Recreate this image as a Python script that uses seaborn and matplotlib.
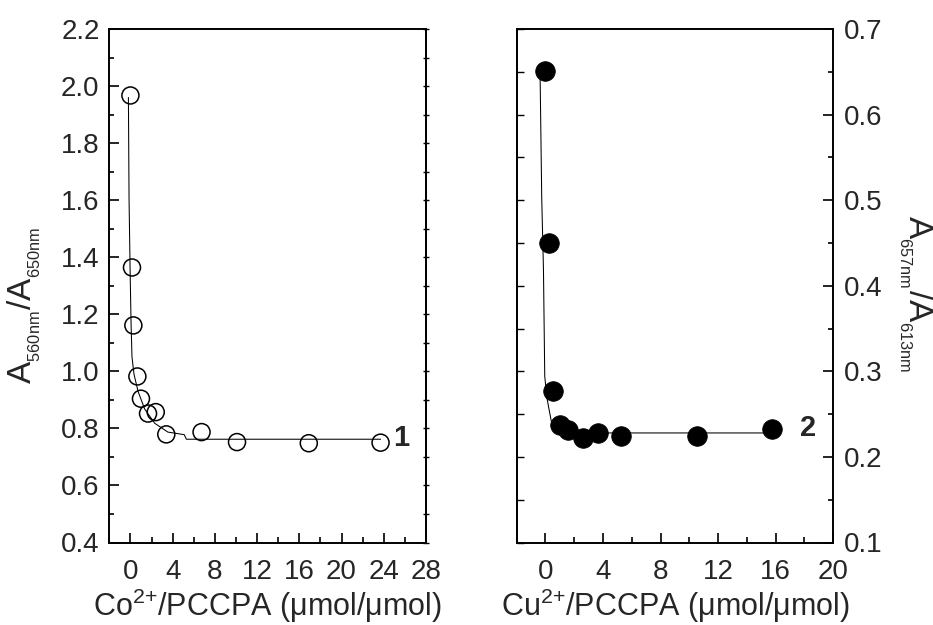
import matplotlib
matplotlib.use("Agg")
import matplotlib.pyplot as plt
import seaborn as sns
from matplotlib.ticker import MultipleLocator, FormatStrFormatter, NullFormatter

# ---- data: panel 1 (Co2+) ----
co_x = [0.0, 0.15, 0.28, 0.66, 1.0, 1.67, 2.4, 3.4, 6.74, 10.1, 16.9, 23.7]
co_y = [1.967, 1.364, 1.161, 0.982, 0.904, 0.852, 0.857, 0.779, 0.787, 0.752, 0.748, 0.750]
co_fit_x = [-0.19, -0.13, -0.03, 0.06, 0.15, 0.34, 0.72, 1.35, 2.3, 3.55, 5.1, 5.3, 23.7]
co_fit_y = [1.96, 1.606, 1.357, 1.17, 1.05, 0.99, 0.93, 0.868, 0.818, 0.787, 0.778, 0.762, 0.762]

# ---- data: panel 2 (Cu2+) ----
cu_x = [-0.05, 0.23, 0.49, 1.0, 1.56, 2.6, 3.67, 5.22, 10.5, 15.76]
cu_y = [0.651, 0.45, 0.277, 0.2375, 0.231, 0.222, 0.228, 0.225, 0.224, 0.2325]
cu_fit_x = [-0.37, -0.26, -0.14, -0.05, 0.1, 0.4, 1.0, 15.76]
cu_fit_y = [0.642, 0.502, 0.419, 0.294, 0.269, 0.242, 0.228, 0.228]

sns.set_theme(style="white")
plt.rcParams['font.family'] = ['Liberation Sans', 'DejaVu Sans']
plt.rcParams['mathtext.fontset'] = 'custom'
plt.rcParams['mathtext.rm'] = 'Liberation Sans'
plt.rcParams['mathtext.it'] = 'Liberation Sans:italic'
plt.rcParams['mathtext.bf'] = 'Liberation Sans:bold'

fig = plt.figure(figsize=(9.33, 6.25), dpi=100)
ax1 = fig.add_axes([0.11715, 0.132, 0.3394, 0.8216])
ax2 = fig.add_axes([0.5538, 0.132, 0.3393, 0.8216])

TICK_FS = 20
LAB_FS = 22
YLAB_FS = 24

# ---------------- panel 1 ----------------
sns.lineplot(x=co_fit_x, y=co_fit_y, ax=ax1, color='black', lw=0.75, sort=False, estimator=None)
sns.scatterplot(x=co_x, y=co_y, ax=ax1, marker='o', s=150, facecolor='none',
                edgecolor='black', linewidth=1.1, zorder=3)
ax1.set_xlim(-2, 28)
ax1.set_ylim(0.4, 2.2)
ax1.xaxis.set_major_locator(MultipleLocator(4))
ax1.xaxis.set_minor_locator(MultipleLocator(2))
ax1.yaxis.set_major_locator(MultipleLocator(0.2))
ax1.yaxis.set_minor_locator(MultipleLocator(0.1))
ax1.yaxis.set_major_formatter(FormatStrFormatter('%.1f'))
ax1.tick_params(axis='both', which='both', direction='in', labelsize=TICK_FS,
                top=False, right=False, left=True, bottom=True, width=1.2, color='black')
ax1.tick_params(axis='y', which='major', length=7.5, pad=7)
ax1.tick_params(axis='y', which='minor', length=3.6)
ax1.tick_params(axis='x', which='major', length=7, pad=12)
ax1.tick_params(axis='x', which='minor', length=4.3)
ax1.set_xlabel('Co$^{2{+}}$/PCCPA (μmol/μmol)', fontsize=LAB_FS, labelpad=1)
ax1.set_ylabel('A$_{_{\\mathrm{560nm}}}$/A$_{_{\\mathrm{650nm}}}$', fontsize=YLAB_FS,
               rotation=90, rotation_mode='anchor', ha='center', va='bottom')
ax1.yaxis.set_label_coords(-0.208, 0.4625)
ax1.text(25.7, 0.766, '1', fontsize=21, fontweight='bold', va='center', ha='center')

sec1 = ax1.secondary_yaxis('right')
sec1.yaxis.set_major_locator(MultipleLocator(0.1))
sec1.yaxis.set_major_formatter(NullFormatter())
sec1.tick_params(axis='y', direction='inout', length=4, width=1.0, color='black')
sec1.spines['right'].set_linewidth(1.4)

# ---------------- panel 2 ----------------
sns.lineplot(x=cu_fit_x, y=cu_fit_y, ax=ax2, color='black', lw=0.75, sort=False, estimator=None)
sns.scatterplot(x=cu_x, y=cu_y, ax=ax2, marker='o', s=200, color='black',
                edgecolor='black', linewidth=0.5, zorder=3)
ax2.set_xlim(-2, 20)
ax2.set_ylim(0.1, 0.7)
ax2.xaxis.set_major_locator(MultipleLocator(4))
ax2.xaxis.set_minor_locator(MultipleLocator(2))
ax2.yaxis.set_major_locator(MultipleLocator(0.1))
ax2.yaxis.set_minor_locator(MultipleLocator(0.05))
ax2.yaxis.set_major_formatter(FormatStrFormatter('%.1f'))
ax2.tick_params(axis='both', which='both', direction='in', labelsize=TICK_FS,
                top=False, right=True, left=False, bottom=True,
                labelleft=False, labelright=True, width=1.2, color='black')
ax2.tick_params(axis='y', which='major', length=7.5, pad=8)
ax2.tick_params(axis='y', which='minor', length=3.6)
ax2.tick_params(axis='x', which='major', length=7, pad=12)
ax2.tick_params(axis='x', which='minor', length=4.3)
ax2.yaxis.set_label_position('right')
ax2.set_xlabel('Cu$^{2{+}}$/PCCPA (μmol/μmol)', fontsize=LAB_FS, labelpad=1)
ax2.set_ylabel('A$_{_{\\mathrm{657nm}}}$/A$_{_{\\mathrm{613nm}}}$', fontsize=YLAB_FS,
               rotation=270, rotation_mode='anchor', ha='center', va='bottom')
ax2.yaxis.set_label_coords(1.2008, 0.485)
ax2.text(18.25, 0.234, '2', fontsize=21, fontweight='bold', va='center', ha='center')

sec2 = ax2.secondary_yaxis('left')
sec2.yaxis.set_major_locator(MultipleLocator(0.05))
sec2.yaxis.set_major_formatter(NullFormatter())
sec2.tick_params(axis='y', direction='in', length=5, width=1.0, color='black')
sec2.spines['left'].set_linewidth(1.4)

for ax in (ax1, ax2):
    for sp in ax.spines.values():
        sp.set_visible(True)
        sp.set_color('black')
        sp.set_linewidth(1.4)

fig.savefig('out.png', dpi=100)
